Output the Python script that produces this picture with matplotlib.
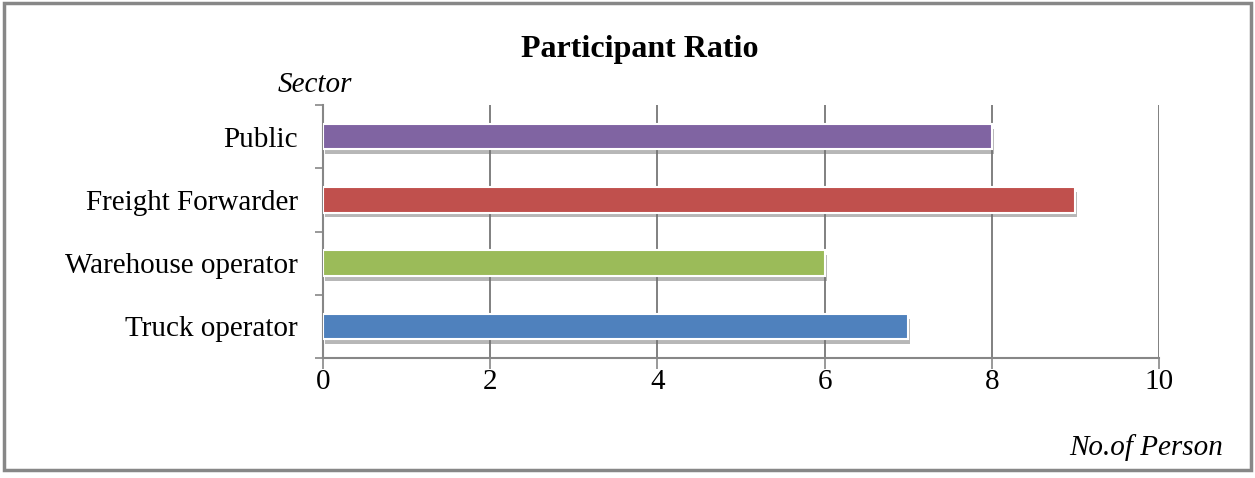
import matplotlib
matplotlib.use("Agg")
import matplotlib.pyplot as plt
import matplotlib.patheffects as pe
from matplotlib.patches import Rectangle
import numpy as np

plt.rcParams["font.family"] = ["Liberation Serif", "DejaVu Serif"]

sectors = ["Truck operator", "Warehouse operator", "Freight Forwarder", "Public"]
persons = [7, 6, 9, 8]
colors = ["#4f81bd", "#9bbb59", "#c0504d", "#8064a2"]
x_ticks = [0, 2, 4, 6, 8, 10]

fig = plt.figure(figsize=(12.55, 4.78), dpi=100)
fig.patch.set_facecolor("white")

# outer chart frame
fig.patches.append(Rectangle((0.003, 0.016), 0.994, 0.978, transform=fig.transFigure,
                             fill=False, edgecolor="#878787", linewidth=2.5))

ax = fig.add_axes([0.2574, 0.251, 0.6661, 0.5293])
y = np.arange(len(sectors))

bars = ax.barh(y, persons, height=0.4, color=colors, edgecolor="white",
               linewidth=1.5, zorder=3)
for b in bars:
    b.set_path_effects([pe.SimplePatchShadow(offset=(1.5, -3.5), shadow_rgbFace="#707070",
                                             alpha=0.5), pe.Normal()])

ax.set_xlim(0, 10)
ax.set_ylim(-0.5, len(sectors) - 0.5)
ax.set_xticks(x_ticks)
ax.set_xticklabels([str(v) for v in x_ticks], fontsize=21)
ax.set_yticks(y)
ax.set_yticklabels(sectors, fontsize=21)
ax.set_yticks(np.arange(-0.5, len(sectors)), minor=True)
ax.tick_params(axis="y", which="major", length=0, pad=18)
ax.tick_params(axis="y", which="minor", length=6, width=1.2, color="#878787")
ax.tick_params(axis="x", length=8, width=1.2, color="#878787", pad=0)

ax.grid(axis="x", color="#808080", linewidth=1.4, zorder=0)
ax.set_axisbelow(True)
for side in ["top", "right"]:
    ax.spines[side].set_visible(False)
for side in ["left", "bottom"]:
    ax.spines[side].set_color("#878787")
    ax.spines[side].set_linewidth(1.5)

fig.text(0.51, 0.897, "Participant Ratio", ha="center", va="center",
         fontsize=23, fontweight="bold")
fig.text(0.251, 0.823, "Sector", ha="center", va="center", fontsize=21, style="italic")
fig.text(0.9745, 0.063, "No.of Person", ha="right", va="center", fontsize=21, style="italic")

fig.savefig("out.png", dpi=100, facecolor="white")
